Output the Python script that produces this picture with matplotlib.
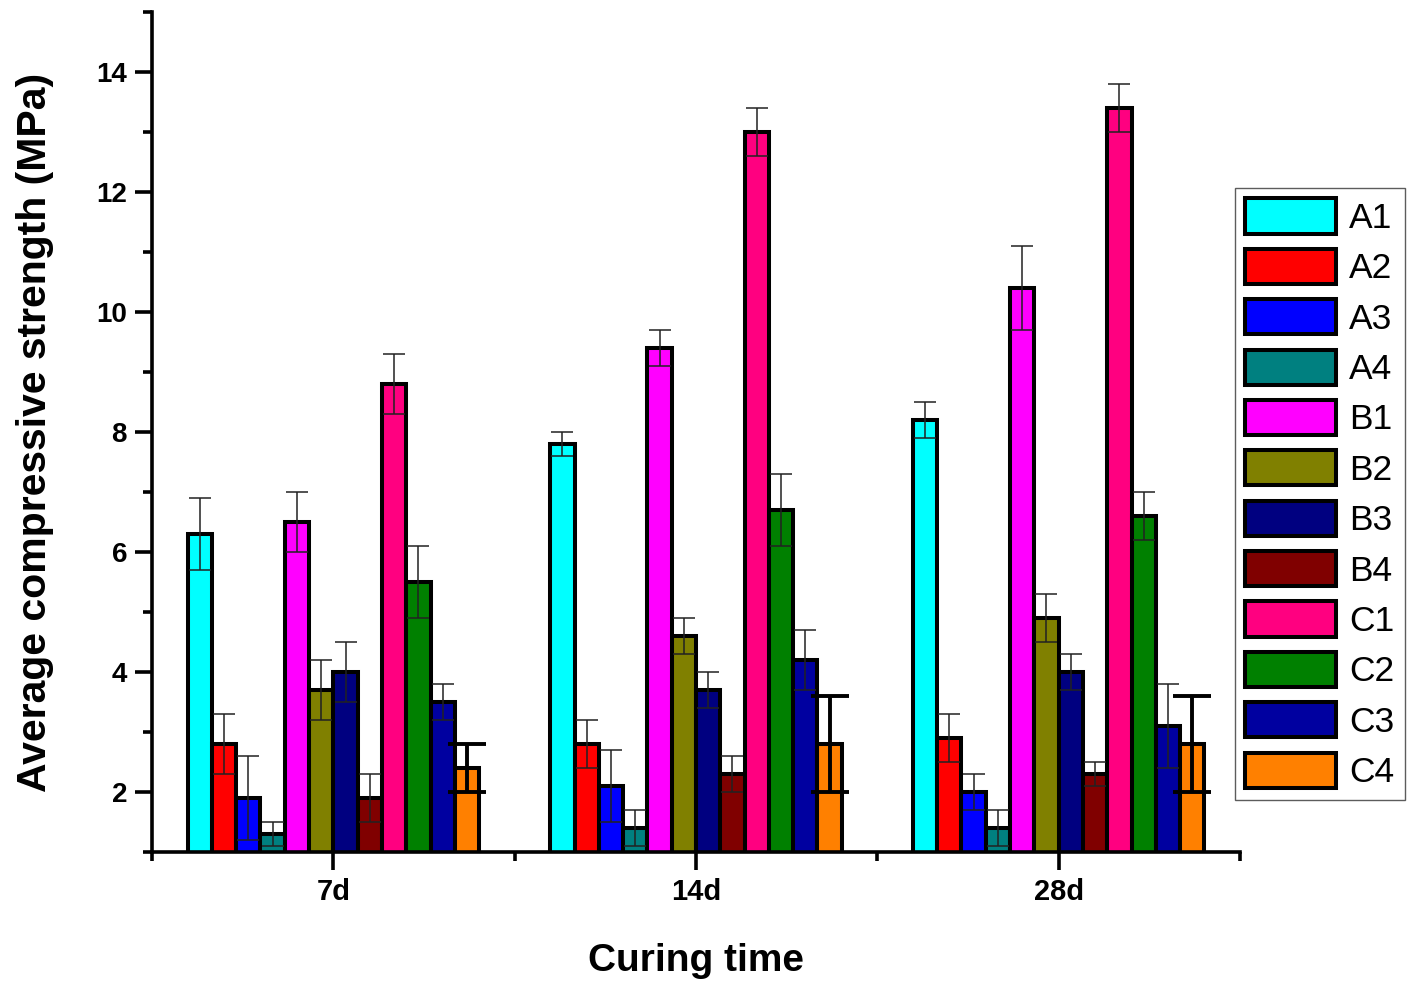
import matplotlib
matplotlib.use('Agg')
import matplotlib.pyplot as plt
import matplotlib.ticker as ticker
import numpy as np

CURING_TIMES = ['7d', '14d', '28d']
MIXES = ['A1', 'A2', 'A3', 'A4', 'B1', 'B2', 'B3', 'B4', 'C1', 'C2', 'C3', 'C4']
MIX_COLORS = ['#00FFFF', '#FF0000', '#0000FF', '#008080', '#FF00FF', '#808000',
              '#000080', '#800000', '#FF0080', '#008000', '#0000A0', '#FF8000']

# mean strength per mix, one entry per curing time (7d, 14d, 28d)
STRENGTH = {
    'A1': [6.3, 7.8, 8.2],
    'A2': [2.8, 2.8, 2.9],
    'A3': [1.9, 2.1, 2.0],
    'A4': [1.3, 1.4, 1.4],
    'B1': [6.5, 9.4, 10.4],
    'B2': [3.7, 4.6, 4.9],
    'B3': [4.0, 3.7, 4.0],
    'B4': [1.9, 2.3, 2.3],
    'C1': [8.8, 13.0, 13.4],
    'C2': [5.5, 6.7, 6.6],
    'C3': [3.5, 4.2, 3.1],
    'C4': [2.4, 2.8, 2.8],
}
STRENGTH_ERR = {
    'A1': [0.6, 0.2, 0.3],
    'A2': [0.5, 0.4, 0.4],
    'A3': [0.7, 0.6, 0.3],
    'A4': [0.2, 0.3, 0.3],
    'B1': [0.5, 0.3, 0.7],
    'B2': [0.5, 0.3, 0.4],
    'B3': [0.5, 0.3, 0.3],
    'B4': [0.4, 0.3, 0.2],
    'C1': [0.5, 0.4, 0.4],
    'C2': [0.6, 0.6, 0.4],
    'C3': [0.3, 0.5, 0.7],
    'C4': [0.4, 0.8, 0.8],
}

BAR_WIDTH = 0.067
FONT = ['Liberation Sans', 'DejaVu Sans']


def main() -> None:
    fig = plt.figure(figsize=(14.21, 9.83), dpi=100)
    ax = fig.add_axes([0.107, 0.1333, 0.7656, 0.8545])

    x = np.arange(1, len(CURING_TIMES) + 1)
    n = len(MIXES)
    for i, mix in enumerate(MIXES):
        pos = x + (i - (n - 1) / 2) * BAR_WIDTH
        ax.bar(pos, STRENGTH[mix], width=BAR_WIDTH, color=MIX_COLORS[i],
               edgecolor='black', linewidth=2.9, label=mix, zorder=2)
        thick = mix == 'C4'
        ax.errorbar(pos, STRENGTH[mix], yerr=STRENGTH_ERR[mix], fmt='none',
                    ecolor='black' if thick else '#222222',
                    elinewidth=2.8 if thick else 1.1,
                    capsize=14 if thick else 8,
                    capthick=2.8 if thick else 1.1, zorder=3)

    ax.set_xlim(0.5, 3.5)
    ax.set_ylim(1, 15)
    ax.xaxis.set_major_locator(ticker.FixedLocator(x))
    ax.xaxis.set_minor_locator(ticker.FixedLocator([0.5, 1.5, 2.5, 3.5]))
    ax.set_xticklabels(CURING_TIMES)
    ax.set_yticks(np.arange(2, 15, 2))
    ax.yaxis.set_minor_locator(ticker.MultipleLocator(1))

    for side in ('top', 'right'):
        ax.spines[side].set_visible(False)
    for side in ('left', 'bottom'):
        ax.spines[side].set_linewidth(2.6)

    ax.tick_params(axis='both', which='major', direction='out', length=12,
                   width=2.6, pad=6)
    ax.tick_params(axis='both', which='minor', direction='out', length=6.5,
                   width=2.6)
    ax.tick_params(axis='x', which='major', length=13, pad=6)
    for lbl in ax.get_yticklabels():
        lbl.set_family(FONT)
        lbl.set_fontweight('bold')
        lbl.set_fontsize(20)
    for lbl in ax.get_xticklabels():
        lbl.set_family(FONT)
        lbl.set_fontweight('bold')
        lbl.set_fontsize(21)

    ax.set_xlabel('Curing time', family=FONT, fontweight='bold', fontsize=28)
    ax.set_ylabel('Average compressive strength (MPa)', family=FONT,
                  fontweight='bold', fontsize=29.5)
    ax.xaxis.set_label_coords(0.5, -0.108)
    ax.yaxis.set_label_coords(-0.090, 0.5)

    leg = ax.legend(loc='upper left', bbox_to_anchor=(0.869, 0.809),
                    bbox_transform=fig.transFigure, borderaxespad=0,
                    fancybox=False, frameon=True,
                    handlelength=2.55, handleheight=1.15, labelspacing=0.39,
                    handletextpad=0.38, borderpad=0.3,
                    prop={'family': 'Liberation Sans', 'size': 25.5})
    leg.get_frame().set_edgecolor('#333333')
    leg.get_frame().set_linewidth(1.0)

    fig.savefig('out.png', dpi=100)
    plt.close(fig)


if __name__ == '__main__':
    main()
